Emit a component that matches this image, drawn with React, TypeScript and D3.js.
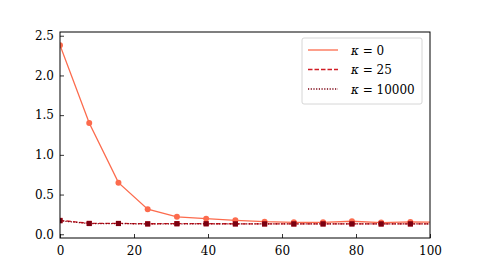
import React, { useEffect, useRef } from "react";
import * as d3 from "d3";

const xs = [0, 7.9, 15.8, 23.7, 31.6, 39.5, 47.4, 55.3, 63.2, 71.1, 78.9, 86.8, 94.7, 102.6];
const k0 = [2.38, 1.4, 0.65, 0.315, 0.22, 0.197, 0.176, 0.159, 0.151, 0.15, 0.164, 0.147, 0.155, 0.15];
const k25 = [0.175, 0.138, 0.137, 0.132, 0.134, 0.133, 0.132, 0.131, 0.13, 0.131, 0.132, 0.13, 0.131, 0.131];
const k10000 = [0.17, 0.135, 0.135, 0.13, 0.132, 0.132, 0.13, 0.13, 0.13, 0.13, 0.13, 0.13, 0.13, 0.13];
const kappas = ["0", "25", "10000"];
const xTicks = [0, 20, 40, 60, 80, 100];
const yTicks = [0, 0.5, 1, 1.5, 2, 2.5];

const App = () => {
  const svgRef = useRef<SVGSVGElement>(null);
  useEffect(() => {
    const svg = d3.select(svgRef.current);
    svg.selectAll("*").remove();
    const width = 478;
    const height = 268;
    const margin = { top: 32, right: 48, bottom: 30, left: 60 };
    const font = "'DejaVu Serif', serif";
    const x = d3.scaleLinear().domain([0, 100]).range([margin.left, width - margin.right]);
    const y = d3.scaleLinear().domain([-0.047, 2.547]).range([height - margin.bottom, margin.top]);

    svg.append("defs").append("clipPath").attr("id", "clip")
      .append("rect")
      .attr("x", margin.left).attr("y", margin.top)
      .attr("width", width - margin.left - margin.right)
      .attr("height", height - margin.top - margin.bottom);

    const series = [
      { vals: k0, color: "#fc6b4d", dash: null, marker: "circle", width: 1.3 },
      { vals: k25, color: "#d01c24", dash: "4.5,2", marker: "square", width: 1.3 },
      { vals: k10000, color: "#7a0010", dash: "1.2,1.5", marker: "square", width: 1.3 },
    ];

    const g = svg.append("g").attr("clip-path", "url(#clip)");
    const line = d3.line<number>().x((_, i) => x(xs[i])).y((d) => y(d));
    series.forEach((s) => {
      g.append("path")
        .attr("d", line(s.vals))
        .attr("fill", "none")
        .attr("stroke", s.color)
        .attr("stroke-width", s.width)
        .attr("stroke-dasharray", s.dash);
      const sym = s.marker === "circle" ? d3.symbolCircle : d3.symbolSquare;
      g.append("g").selectAll("path")
        .data(s.vals)
        .join("path")
        .attr("transform", (d, i) => `translate(${x(xs[i])},${y(d)})`)
        .attr("d", d3.symbol().type(sym).size(s.marker === "circle" ? 28 : 26)())
        .attr("fill", s.color);
    });

    const xAxis = svg.append("g")
      .attr("transform", `translate(0,${height - margin.bottom})`)
      .call(d3.axisBottom(x).tickValues(xTicks).tickSizeInner(-4).tickSizeOuter(0).tickPadding(8).tickFormat(d3.format("d")));
    const yAxis = svg.append("g")
      .attr("transform", `translate(${margin.left},0)`)
      .call(d3.axisLeft(y).tickValues(yTicks).tickSizeInner(-4).tickSizeOuter(0).tickPadding(6).tickFormat(d3.format(".1f")));
    [xAxis, yAxis].forEach((a) => {
      a.select(".domain").remove();
      a.selectAll("line").attr("stroke", "#000").attr("stroke-width", 0.8);
      a.selectAll("text").attr("font-family", font).attr("font-size", 12).attr("fill", "#000");
    });

    svg.append("rect")
      .attr("x", margin.left).attr("y", margin.top)
      .attr("width", width - margin.left - margin.right)
      .attr("height", height - margin.top - margin.bottom)
      .attr("fill", "none").attr("stroke", "#000").attr("stroke-width", 1);

    const lg = svg.append("g").attr("transform", "translate(302,38)");
    lg.append("rect")
      .attr("width", 120).attr("height", 66).attr("rx", 2)
      .attr("fill", "#fff").attr("fill-opacity", 0.8)
      .attr("stroke", "#ccc").attr("stroke-width", 0.8);
    series.forEach((s, i) => {
      const yy = 12 + i * 19.5;
      lg.append("line")
        .attr("x1", 6).attr("x2", 36).attr("y1", yy).attr("y2", yy)
        .attr("stroke", s.color).attr("stroke-width", s.width)
        .attr("stroke-dasharray", s.dash);
      const t = lg.append("text")
        .attr("x", 49).attr("y", yy + 4.5)
        .attr("font-family", font).attr("font-size", 12);
      t.append("tspan").attr("font-style", "italic").text("κ");
      t.append("tspan").text(` = ${kappas[i]}`);
    });
  }, []);
  return <svg ref={svgRef} width={478} height={268} style={{ position: "absolute", left: 0, top: 0 }}></svg>;
};

export default App;
